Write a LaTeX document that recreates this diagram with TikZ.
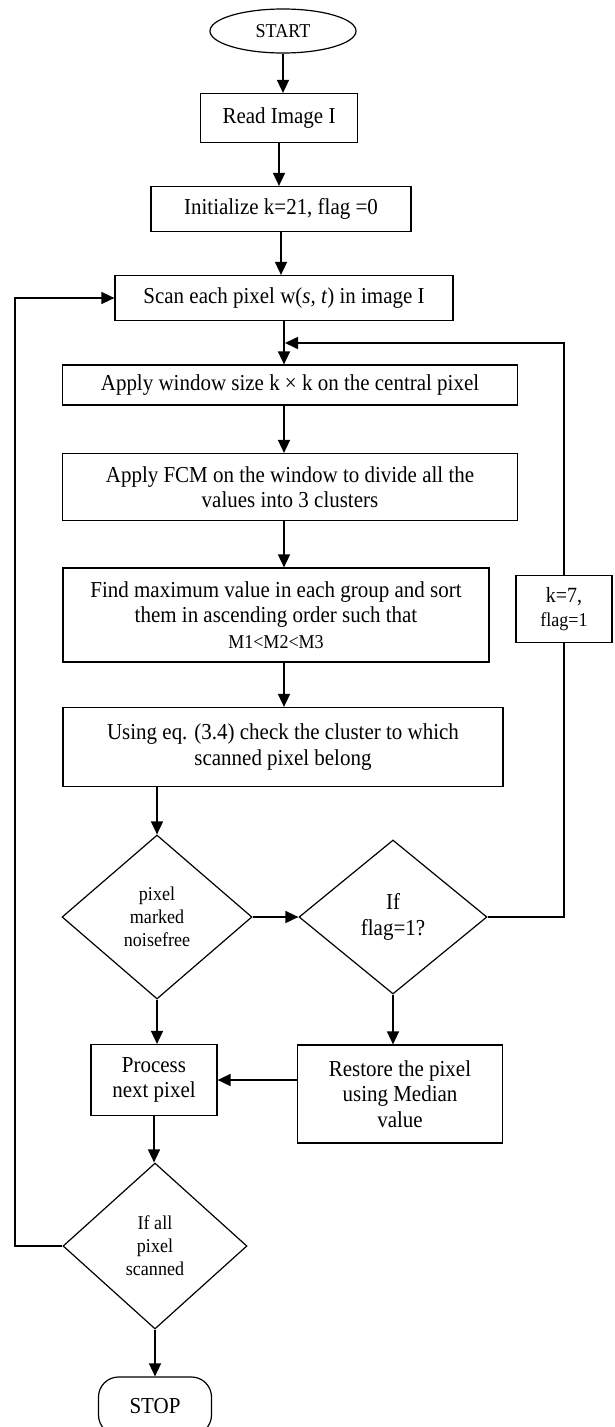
\documentclass[tikz,border=0pt]{standalone}
\usepackage{fontspec}
\setmainfont{Liberation Serif}[FakeStretch=0.92]
\usetikzlibrary{shapes.geometric,arrows.meta}
\begin{document}
\begin{tikzpicture}[x=1pt,y=-1pt,
  box/.style={draw,line width=1.2pt,rectangle,align=center,inner sep=0pt,font=\fontsize{22.8}{25.5}\selectfont},
  dia/.style={draw,line width=1.2pt,diamond,align=center,inner sep=0pt,aspect=1},
  arr/.style={line width=1.6pt,-{Triangle[length=13pt,width=12pt]}},
  ln/.style={line width=1.6pt},
  sm/.style={font=\fontsize{19.6}{23}\selectfont},
  nm/.style={font=\fontsize{22.8}{25.5}\selectfont}]
\clip (0,0) rectangle (614,1427);
\useasboundingbox (0,0) rectangle (614,1427);

\node[draw,ellipse,line width=1.2pt,minimum width=146pt,minimum height=44pt,inner sep=0pt,font=\fontsize{19.6}{23}\selectfont] (start) at (283,31) {START};
\node[box,minimum width=157pt,minimum height=49pt] (read) at (279,118) {Read Image I};
\node[box,minimum width=260pt,minimum height=45pt] (init) at (281,209) {Initialize k=21, flag =0};
\node[box,minimum width=338pt,minimum height=45pt] (scan) at (284,298) {Scan each pixel w(\textit{s, t}) in image I};
\node[box,minimum width=455pt,minimum height=40pt] (apply) at (290,385) {Apply window size k × k on the central pixel};
\node[box,minimum width=455pt,minimum height=67pt] (fcm) at (290,487) {Apply FCM on the window to divide all the\\values into 3 clusters};
\node[box,minimum width=426pt,minimum height=94pt] (find) at (276,615) {Find maximum value in each group and sort\\them in ascending order such that\\{\fontsize{19.6}{21}\selectfont M1<M2<M3}};
\node[box,minimum width=440pt,minimum height=79pt] (using) at (283,747) {Using eq. (3.4) check the cluster to which\\scanned pixel belong};
\node[box,minimum width=96pt,minimum height=67pt,font=\fontsize{21.7}{24}\selectfont] (kbox) at (564,609) {k=7,\\{\fontsize{19.6}{21}\selectfont flag=1}};
\node[dia,minimum width=190pt,minimum height=164pt,sm] (d1) at (157,917) {pixel\\marked\\noisefree};
\node[dia,minimum width=188pt,minimum height=154pt,nm] (d2) at (393,917) {If\\flag=1?};
\node[box,minimum width=126pt,minimum height=71pt] (proc) at (154,1080) {Process\\next pixel};
\node[box,minimum width=205pt,minimum height=98pt] (rest) at (400,1094) {Restore the pixel\\using Median\\value};
\node[dia,minimum width=184pt,minimum height=166pt,sm] (d3) at (155,1246) {If all\\pixel\\scanned};
\node[draw,line width=1.2pt,rounded corners=20pt,minimum width=113pt,minimum height=58pt,inner sep=0pt,nm] (stop) at (155,1406) {STOP};

\coordinate (j) at (285,343);
\coordinate (lp) at (15,0);

\draw[arr] (start.south) -- (start.south |- read.north);
\draw[arr] (read.south) -- (read.south |- init.north);
\draw[arr] (init.south) -- (init.south |- scan.north);
\draw[arr] (scan.south) -- (scan.south |- apply.north);
\draw[arr] (kbox.north) |- (j);
\draw[arr] (apply.south -| scan.south) -- (fcm.north -| scan.south);
\draw[arr] (fcm.south -| scan.south) -- (find.north -| scan.south);
\draw[arr] (find.south -| scan.south) -- (using.north -| scan.south);
\draw[arr] (using.south -| d1.north) -- (d1.north);
\draw[arr] (d1.east) -- (d2.west);
\draw[ln] (d2.east) -| (kbox.south);
\draw[arr] (d2.south) -- (d2.south |- rest.north);
\draw[arr] (d1.south) -- (d1.south |- proc.north);
\draw[arr] (rest.west |- proc.east) -- (proc.east);
\draw[arr] (proc.south) -- (proc.south |- d3.north);
\draw[arr] (d3.west) -- (d3.west -| lp) |- (scan.west);
\draw[arr] (d3.south) -- (d3.south |- stop.north);
\end{tikzpicture}
\end{document}
